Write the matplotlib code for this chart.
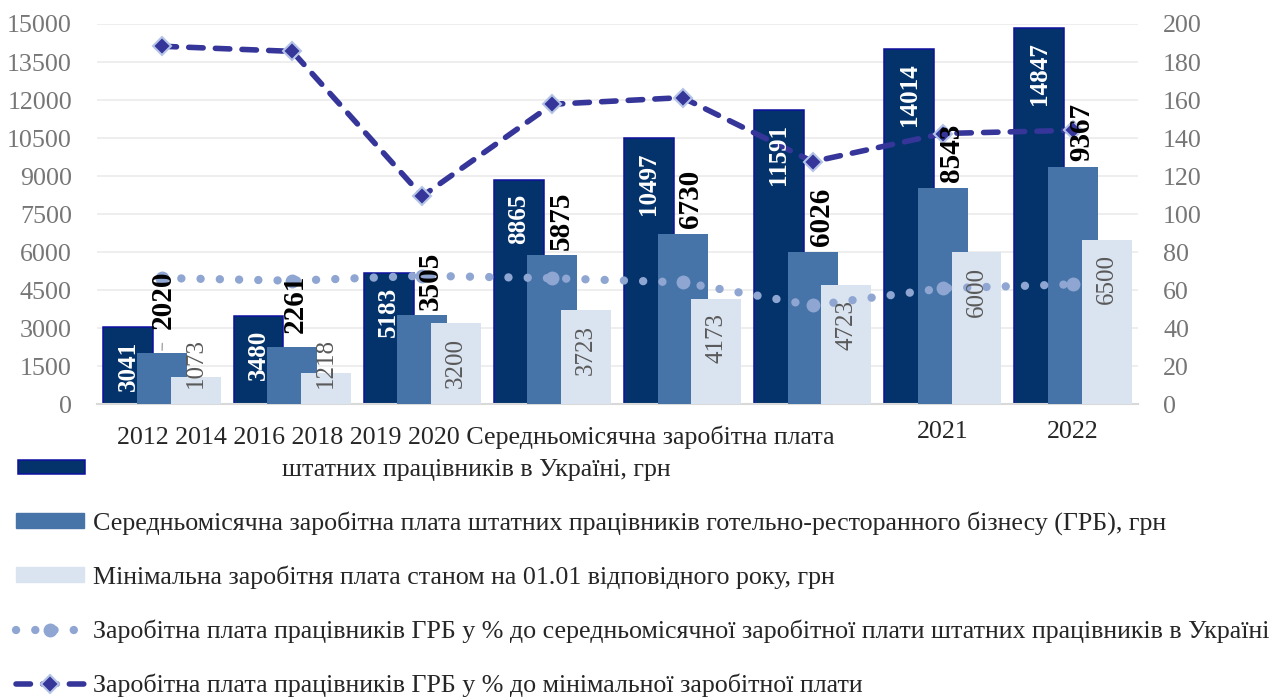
import matplotlib
matplotlib.use("Agg")
import matplotlib.pyplot as plt
import matplotlib.patches as mpatches
from matplotlib.lines import Line2D
import numpy as np

# ── data ─────────────────────────────────────────────
years        = ["2012", "2014", "2016", "2018", "2019", "2020", "2021", "2022"]
wage_ukraine = [3041, 3480, 5183, 8865, 10497, 11591, 14014, 14847]
wage_hrb     = [2020, 2261, 3505, 5875, 6730, 6026, 8543, 9367]
min_wage     = [1073, 1218, 3200, 3723, 4173, 4723, 6000, 6500]
pct_of_avg   = [66.4, 65.0, 67.6, 66.3, 64.1, 52.0, 61.0, 63.1]
pct_of_min   = [188.3, 185.6, 109.5, 157.8, 161.3, 127.6, 142.4, 144.1]

series_names = [
    "Середньомісячна заробітна плата",
    "штатних працівників в Україні, грн",
    "Середньомісячна заробітна плата штатних працівників готельно-ресторанного бізнесу (ГРБ), грн",
    "Мінімальна заробітня плата станом на 01.01 відповідного року, грн",
    "Заробітна плата працівників ГРБ у % до середньомісячної заробітної плати штатних працівників в Україні",
    "Заробітна плата працівників ГРБ у % до мінімальної заробітної плати",
]

C_DARK, C_EDGE = "#03336A", "#1010A0"
C_MID, C_LIGHT = "#4674A8", "#DAE3F0"
C_DOT, C_DASH = "#8FA6D2", "#35359A"
TXT, TICK = "#262626", "#767676"

plt.rcParams["font.family"] = ["Liberation Serif", "DejaVu Serif"]

W, H = 1285, 697
FS = 18.7

fig = plt.figure(figsize=(W / 100, H / 100), dpi=100)
ax = fig.add_axes([97 / W, 1 - 404.3 / H, (1138 - 97) / W, (404.3 - 24) / H])
ax2 = ax.twinx()

x = np.arange(len(years))
bw, off = 0.384, 0.259

ax.bar(x - off, wage_ukraine, bw, color=C_DARK, edgecolor=C_EDGE, linewidth=1.1, zorder=2)
ax.bar(x, wage_hrb, bw, color=C_MID, zorder=3)
ax.bar(x + off, min_wage, bw, color=C_LIGHT, zorder=4)

ax.set_xlim(-0.5, len(years) - 0.5)
ax.set_ylim(0, 15000)
ax.set_yticks(np.arange(0, 15001, 1500))
ax.set_xticks(x[6:])
ax.set_xticklabels(years[6:])
ax.tick_params(axis="y", length=0, pad=18, labelsize=FS, labelcolor=TICK)
ax.tick_params(axis="x", length=0, pad=12, labelsize=FS, labelcolor=TXT)
ax.yaxis.grid(True, color="#EBEBEB", linewidth=1.2)
ax.set_axisbelow(True)
for s in ["top", "left", "right"]:
    ax.spines[s].set_visible(False)
ax.spines["bottom"].set_color("#D9D9D9")
ax.spines["bottom"].set_linewidth(1.5)

ax2.set_ylim(0, 200)
ax2.set_yticks(np.arange(0, 201, 20))
ax2.tick_params(axis="y", length=0, pad=18, labelsize=FS, labelcolor=TICK)
for s in ax2.spines.values():
    s.set_visible(False)

dot_style = dict(color=C_DOT, lw=6, linestyle=(0, (0.01, 2.3)), dash_capstyle="round",
                 marker="o", ms=9)
dash_style = dict(color=C_DASH, lw=4, linestyle=(0, (2.6, 2.2)), dash_capstyle="round",
                  marker="D", ms=9, mfc=C_DASH, mec="#B4C4E6", mew=1.5)

ax2.plot(x, pct_of_avg, zorder=5, **dot_style)
ax2.plot(x, pct_of_min, zorder=6, **dash_style)

# data labels (on top of lines)
for i in x:
    ax2.annotate(str(wage_ukraine[i]), xy=(i - off, wage_ukraine[i]), xycoords=ax.transData,
                 xytext=(0, -10), textcoords="offset points", rotation=90,
                 ha="center", va="top", color="white", fontweight="bold", fontsize=18, zorder=10)
    ax2.annotate(str(min_wage[i]), xy=(i + off, max(min_wage[i] - 590, 2600)),
                 xycoords=ax.transData, rotation=90, ha="center", va="top",
                 color="#595959", fontsize=18, zorder=10)

nudge = {0: (1, 17), 1: (2, 10)}
for i in x:
    dx, dy = nudge.get(i, (6, 4))
    arrow = dict(arrowstyle="-", color="#A6A6A6", lw=1, shrinkA=8, shrinkB=2) if i == 0 else None
    ax2.annotate(str(wage_hrb[i]), xy=(i, wage_hrb[i]), xycoords=ax.transData,
                 xytext=(dx, dy), textcoords="offset points", rotation=90,
                 ha="center", va="bottom", color="black", fontweight="bold",
                 fontsize=21, arrowprops=arrow, zorder=10)

# first legend row (merged with category labels, as in the source)
fig.patches.append(mpatches.Rectangle((18 / W, 1 - 474 / H), 67 / W, 14 / H,
                                      transform=fig.transFigure, facecolor=C_DARK,
                                      edgecolor=C_EDGE, linewidth=1.1))
fig.text(476 / W, 1 - 437 / H, " ".join(years[:6]) + " " + series_names[0],
         ha="center", va="center", fontsize=FS, color=TXT)
fig.text(476 / W, 1 - 470 / H, series_names[1],
         ha="center", va="center", fontsize=FS, color=TXT)

handles = [
    mpatches.Patch(color=C_MID),
    mpatches.Patch(color=C_LIGHT),
    Line2D([], [], **dot_style),
    Line2D([], [], **dash_style),
]
leg = fig.legend(handles, series_names[2:], loc="upper left",
                 bbox_to_anchor=(16 / W, 1 - 511 / H), frameon=False, fontsize=FS,
                 handlelength=2.6, handleheight=0.5, handletextpad=0.35,
                 labelspacing=1.18, borderpad=0, borderaxespad=0, numpoints=1)
for t in leg.get_texts():
    t.set_color(TXT)

fig.savefig("out.png", dpi=100)
